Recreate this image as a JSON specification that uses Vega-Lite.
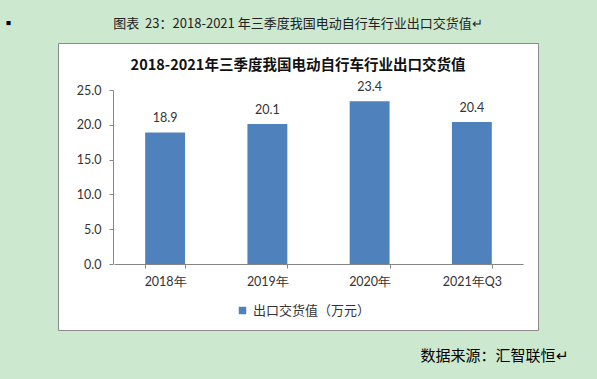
{
  "$schema": "https://vega.github.io/schema/vega-lite/v6.json",
  "width": 480,
  "height": 287,
  "autosize": {"type": "none"},
  "padding": {"left": 58, "top": 43, "right": 59, "bottom": 49},
  "background": "#CCE8CF",
  "config": {
    "view": {"fill": "white", "stroke": "#8a8a8a", "strokeWidth": 1},
    "font": "Noto Sans CJK SC"
  },
  "title": {
    "text": "图表\u00a0\u00a023：2018-2021 年三季度我国电动自行车行业出口交货值↵",
    "subtitle": "2018-2021年三季度我国电动自行车行业出口交货值",
    "anchor": "middle",
    "frame": "group",
    "font": "Noto Sans CJK SC",
    "fontSize": 13,
    "fontWeight": "normal",
    "color": "#222222",
    "subtitleFont": "Noto Sans CJK SC",
    "subtitleFontSize": 14.5,
    "subtitleFontWeight": "bold",
    "subtitleColor": "#111111",
    "subtitlePadding": 28,
    "offset": -56
  },
  "data": {
    "values": [
      {"year": "2018年", "value": 18.9, "series": "出口交货值（万元）"},
      {"year": "2019年", "value": 20.1, "series": "出口交货值（万元）"},
      {"year": "2020年", "value": 23.4, "series": "出口交货值（万元）"},
      {"year": "2021年Q3", "value": 20.4, "series": "出口交货值（万元）"}
    ]
  },
  "encoding": {
    "x": {
      "field": "year",
      "type": "nominal",
      "sort": null,
      "scale": {"range": [56, 465], "paddingInner": 0.61, "paddingOuter": 0.305},
      "axis": {
        "title": "数据来源：汇智联恒↵",
        "titleFont": "Noto Sans CJK SC",
        "titleFontSize": 15,
        "titleFontWeight": "normal",
        "titleColor": "#000000",
        "titleX": 362,
        "titleY": 91,
        "titleAlign": "left",
        "titleAnchor": "start",
        "titleBaseline": "middle",
        "offset": -66,
        "tickBand": "extent",
        "tickSize": 4,
        "tickColor": "#868686",
        "domainColor": "#868686",
        "labelAngle": 0,
        "labelFont": "Lato",
        "labelFontSize": 12.5,
        "labelColor": "#333333",
        "labelPadding": 7
      }
    },
    "y": {
      "field": "value",
      "type": "quantitative",
      "scale": {"domain": [0, 25], "range": [221, 47], "nice": false, "zero": true},
      "axis": {
        "values": [0, 5, 10, 15, 20, 25],
        "format": ".1f",
        "grid": false,
        "title": "▪",
        "titleAngle": 0,
        "titleX": -105,
        "titleY": -20,
        "titleFontSize": 15,
        "titleColor": "#000000",
        "titleAlign": "center",
        "titleBaseline": "middle",
        "offset": -55,
        "tickSize": 4,
        "tickColor": "#868686",
        "domainColor": "#868686",
        "labelFont": "Lato",
        "labelFontSize": 12.5,
        "labelColor": "#333333",
        "labelPadding": 8
      }
    }
  },
  "layer": [
    {
      "mark": {"type": "bar"},
      "encoding": {
        "color": {
          "field": "series",
          "type": "nominal",
          "scale": {"range": ["#4F81BD"]},
          "legend": {
            "title": null,
            "orient": "none",
            "legendX": 178,
            "legendY": 261,
            "symbolType": "square",
            "symbolSize": 56,
            "labelFont": "Noto Sans CJK SC",
            "labelFontSize": 13,
            "labelColor": "#333333"
          }
        }
      }
    },
    {
      "mark": {"type": "text", "dy": -14, "font": "Lato", "fontSize": 12.5, "color": "#333333"},
      "encoding": {
        "text": {"field": "value", "type": "quantitative", "format": ".1f"}
      }
    }
  ]
}
